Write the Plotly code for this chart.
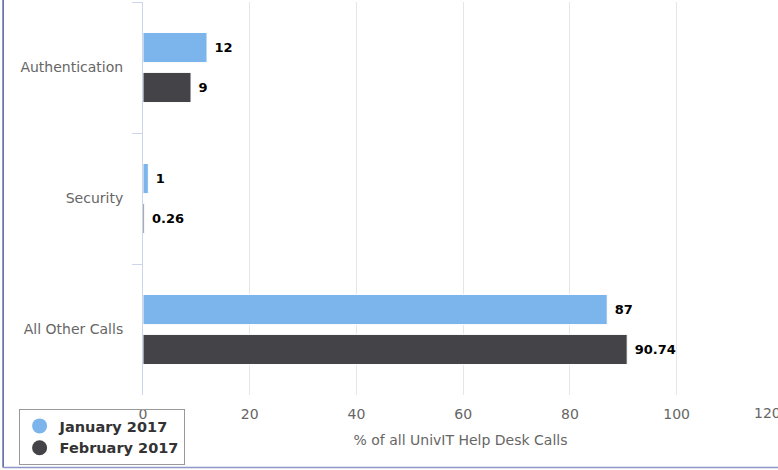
import plotly.graph_objects as go

categories = ["Authentication", "Security", "All Other Calls"]
jan_values = [12, 1, 87]
feb_values = [9, 0.26, 90.74]
series_names = ["January 2017", "February 2017"]
colors = ["#7cb5ec", "#434348"]
x_tickvals = [0, 20, 40, 60, 80, 100]
extra_tick = 120
x_title = "% of all UnivIT Help Desk Calls"

W, H = 778, 470
ML, MR, MT, MB = 142.5, 0, 2, 75
X_MAX = 119.0
pw = W - ML - MR
ph = H - MT - MB

def px_to_paper_x(px):
    return (px - ML) / pw

def px_to_paper_y(py):
    return (H - MB - py) / ph

fig = go.Figure()
for name, vals, col in zip(series_names, [jan_values, feb_values], colors):
    fig.add_trace(go.Bar(
        y=categories, x=vals, orientation="h", name=name,
        marker=dict(color=col, line=dict(color="#ffffff", width=1)),
        text=vals, texttemplate=" %{x}", textposition="outside",
        cliponaxis=False,
        textfont=dict(family="DejaVu Sans", size=13, color="#000000", weight="bold"),
        showlegend=False, hoverinfo="skip",
    ))
for name, col in zip(series_names, colors):
    fig.add_trace(go.Scatter(
        x=[None], y=[None], mode="markers", name=name,
        marker=dict(symbol="circle", size=15, color=col),
    ))

fig.update_layout(
    width=W, height=H,
    margin=dict(l=ML, r=MR, t=MT, b=MB, pad=0),
    paper_bgcolor="#ffffff", plot_bgcolor="#ffffff",
    barmode="group", bargap=0.39, bargroupgap=0.245,
    font=dict(family="DejaVu Sans", size=14, color="#666666"),
    xaxis=dict(
        range=[0, X_MAX],
        tickvals=x_tickvals, showgrid=True, gridcolor="#e6e6e6", gridwidth=1,
        zeroline=False, showline=False, ticks="",
        ticklabelstandoff=9,
        title=dict(text=x_title, font=dict(size=14, color="#666666"), standoff=14),
    ),
    yaxis=dict(
        categoryorder="array", categoryarray=categories,
        autorange=False, range=[2.5, -0.5],
        tickson="boundaries", ticks="outside", ticklen=10, tickcolor="#ccd6eb",
        showline=True, linecolor="#ccd6eb", linewidth=1,
        showgrid=False, zeroline=False, ticklabelstandoff=16,
    ),
    legend=dict(
        x=px_to_paper_x(18), y=px_to_paper_y(409), xanchor="left", yanchor="top",
        bgcolor="rgba(255,255,255,0)", bordercolor="#999999", borderwidth=1,
        font=dict(family="DejaVu Sans", size=14.5, color="#333333", weight="bold"),
        itemclick=False,
    ),
    annotations=[dict(
        x=extra_tick / X_MAX, xref="paper", y=0, yref="paper", yanchor="top",
        yshift=-8, text=str(extra_tick), showarrow=False,
        font=dict(size=14, color="#666666"),
    )],
    shapes=[
        dict(type="line", xref="paper", yref="paper",
             x0=px_to_paper_x(2.5), x1=px_to_paper_x(2.5),
             y0=px_to_paper_y(0), y1=px_to_paper_y(467.5),
             line=dict(color="#4f5f9f", width=1.5)),
        dict(type="line", xref="paper", yref="paper",
             x0=px_to_paper_x(2.5), x1=px_to_paper_x(778),
             y0=px_to_paper_y(467.5), y1=px_to_paper_y(467.5),
             line=dict(color="#8f97c8", width=1.5)),
    ],
)

fig.write_html("out.html", config={"displayModeBar": False},
               post_script="document.body.style.margin='0';document.body.style.overflow='hidden';")
